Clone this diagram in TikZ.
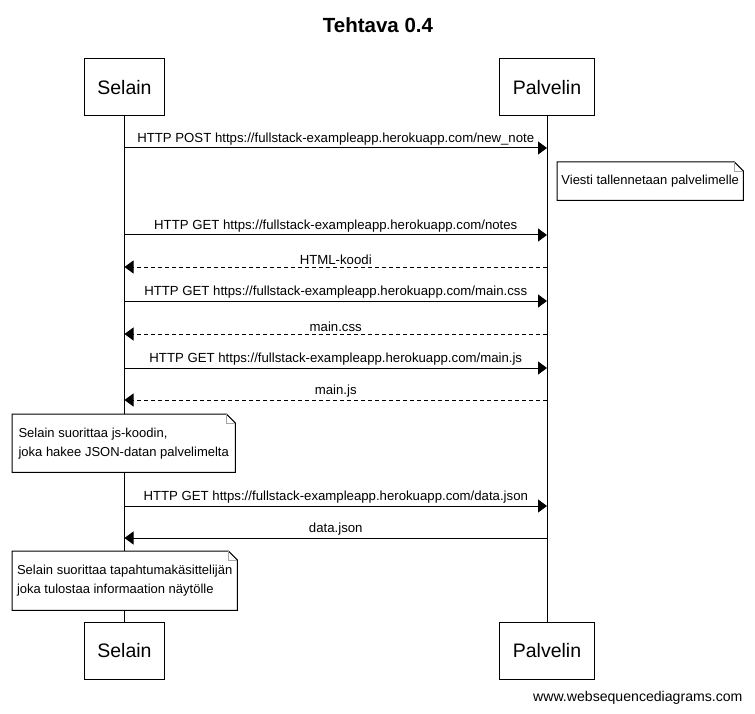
\documentclass[tikz,border=0pt]{standalone}
\usepackage{fontspec}
\setmainfont{Liberation Sans}
\usetikzlibrary{arrows.meta,positioning}
\tikzset{
    actor/.style = {
        draw,
        shape=rectangle,
        minimum height=57pt,
        inner xsep=13pt,
        line width=1pt,
        fill=white,
        font=\fontsize{19.5}{22}\selectfont
    },
    msg/.style = {
        draw,
        line width=1pt,
        -{Triangle[length=9pt,width=13pt]}
    },
    reply/.style = {
        msg,
        dash pattern=on 4pt off 3pt
    },
    lbl/.style = {
        above,
        midway,
        inner sep=2pt,
        font=\fontsize{13.2}{15}\selectfont
    },
    note/.style = {
        shape=rectangle,
        fill=white,
        anchor=north west,
        align=left,
        inner xsep=4pt,
        font=\fontsize{13}{19}\selectfont
    },
}
% outline of a note with a folded corner
\newcommand{\dogear}[1]{
    \draw[line width=1pt] (#1.south west) -- (#1.north west) -- ([xshift=-9pt]#1.north east)
        -- ([yshift=-9pt]#1.north east) -- (#1.south east) -- cycle;
    \draw[gray!70] ([xshift=-9pt]#1.north east) -- ([xshift=-9pt,yshift=-9pt]#1.north east)
        -- ([yshift=-9pt]#1.north east);
}

\begin{document}
\begin{tikzpicture}[x=1pt,y=-1pt]
    \useasboundingbox (0,0) rectangle (755,714);

    \node[font=\bfseries\fontsize{20.5}{24}\selectfont] (title) at (378,25) {Tehtava 0.4};

    \node[actor] (selTop) at (124.5,87.5) {Selain};
    \node[actor] (palTop) at (547,87.5) {Palvelin};

    % lifelines
    \draw[line width=1pt] (selTop.south) -- (124.5,622);
    \draw[line width=1pt] (palTop.south) -- (547,622);

    \node[actor] (selBot) at (124.5,651) {Selain};
    \node[actor] (palBot) at (547,651) {Palvelin};

    \foreach \n/\y in {1/148,2/235,3/267,4/301,5/334,6/368,7/400,8/506,9/538} {
        \coordinate (s\n) at (124.5,\y);
        \coordinate (p\n) at (547,\y);
    }

    \path[msg] (s1) -- node[lbl] {HTTP POST https://fullstack-exampleapp.herokuapp.com/new\_note} (p1);

    \node[note, minimum width=186pt, minimum height=38pt] (note1) at (557,162) {Viesti tallennetaan palvelimelle};
    \dogear{note1}

    \path[msg] (s2) -- node[lbl] {HTTP GET https://fullstack-exampleapp.herokuapp.com/notes} (p2);
    \path[reply] (p3) -- node[lbl] {HTML-koodi} (s3);
    \path[msg] (s4) -- node[lbl] {HTTP GET https://fullstack-exampleapp.herokuapp.com/main.css} (p4);
    \path[reply] (p5) -- node[lbl] {main.css} (s5);
    \path[msg] (s6) -- node[lbl] {HTTP GET https://fullstack-exampleapp.herokuapp.com/main.js} (p6);
    \path[reply] (p7) -- node[lbl] {main.js} (s7);

    \node[note, minimum width=223pt, minimum height=58pt] (note2) at (12,414) {Selain suorittaa js-koodin,\\joka hakee JSON-datan palvelimelta};
    \dogear{note2}

    \path[msg] (s8) -- node[lbl] {HTTP GET https://fullstack-exampleapp.herokuapp.com/data.json} (p8);
    \path[msg] (p9) -- node[lbl] {data.json} (s9);

    \node[note, minimum width=225pt, minimum height=59pt] (note3) at (12,551) {Selain suorittaa tapahtumakäsittelijän\\joka tulostaa informaation näytölle};
    \dogear{note3}

    \node[anchor=east, font=\fontsize{14.1}{16}\selectfont] (footer) at (746,698) {www.websequencediagrams.com};
\end{tikzpicture}
\end{document}
